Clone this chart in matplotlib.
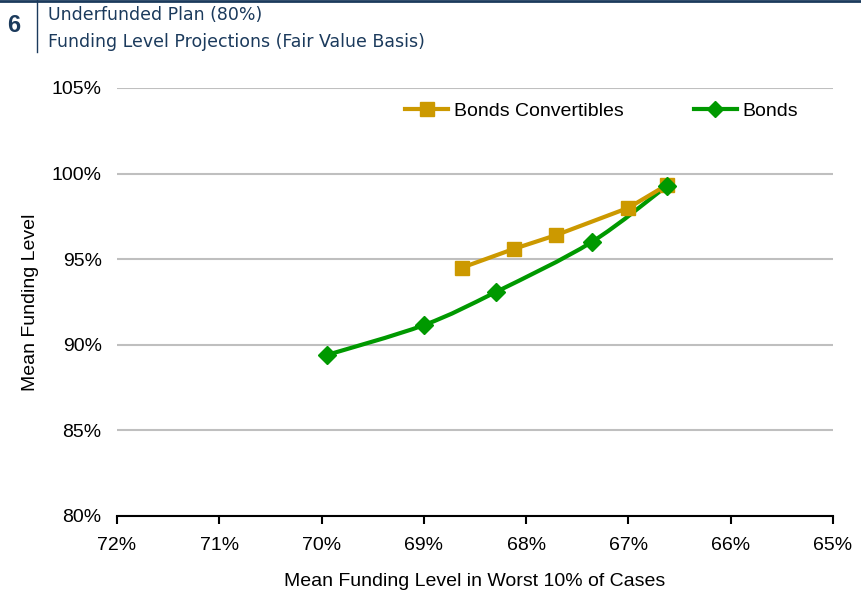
import matplotlib.pyplot as plt
import numpy as np
from matplotlib.path import Path
from matplotlib.patches import PathPatch

# funding level in worst 10% of cases (x) vs. mean funding level (y), in %
conv_x = [68.63, 68.12, 67.71, 67.0, 66.62]
conv_y = [94.5, 95.6, 96.4, 98.0, 99.35]
bonds_x = [69.95, 69.0, 68.29, 67.36, 66.62]
bonds_y = [89.4, 91.15, 93.1, 96.0, 99.3]

x_ticks = [72, 71, 70, 69, 68, 67, 66, 65]
y_ticks = [80, 85, 90, 95, 100, 105]

GOLD = "#CC9900"
GREEN = "#009900"
NAVY = "#1B3A5C"

plt.rcParams['font.family'] = ['Liberation Sans', 'DejaVu Sans']


def smooth_path(xs, ys, tension=1 / 6):
    # Catmull-Rom style bezier through the points, like a spreadsheet smoothed line
    pts = np.column_stack([xs, ys])
    verts = [pts[0]]
    codes = [Path.MOVETO]
    n = len(pts)
    for i in range(n - 1):
        p0 = pts[max(i - 1, 0)]
        p1 = pts[i]
        p2 = pts[i + 1]
        p3 = pts[min(i + 2, n - 1)]
        c1 = p1 + (p2 - p0) * tension
        c2 = p2 - (p3 - p1) * tension
        verts += [c1, c2, p2]
        codes += [Path.CURVE4] * 3
    return Path(verts, codes)


fig = plt.figure(figsize=(8.62, 5.92), dpi=100)
ax = fig.add_axes([0.1357, 0.1284, 0.8307, 0.723])

ax.set_xlim(72, 65)
ax.set_ylim(80, 105)
ax.set_xticks(x_ticks)
ax.set_xticklabels([f"{t}%" for t in x_ticks])
ax.set_yticks(y_ticks)
ax.set_yticklabels([f"{t}%" for t in y_ticks])
ax.tick_params(axis='x', direction='out', length=6, width=1.5, labelsize=14, pad=9)
ax.tick_params(axis='y', length=0, labelsize=14, pad=11)
for side in ['top', 'right', 'left']:
    ax.spines[side].set_visible(False)
ax.spines['bottom'].set_linewidth(1.5)
ax.yaxis.grid(True, color="#BFBFBF", linewidth=1.5)
ax.set_axisbelow(True)

ax.plot(conv_x, conv_y, color=GOLD, lw=3, marker='s', ms=10, label="Bonds Convertibles")
ax.add_patch(PathPatch(smooth_path(bonds_x, bonds_y), fill=False, edgecolor=GREEN, lw=3))
ax.plot(bonds_x, bonds_y, color=GREEN, lw=0, marker='D', ms=9)
# legend proxy for the smoothed series
ax.plot([], [], color=GREEN, lw=3, marker='D', ms=8, label="Bonds")

ax.legend(loc='center', bbox_to_anchor=(0.698, 0.812), bbox_transform=fig.transFigure,
          ncol=2, frameon=False, fontsize=14, handlelength=2.2, handletextpad=0.3,
          columnspacing=3.6)

ax.set_xlabel("Mean Funding Level in Worst 10% of Cases", fontsize=14, labelpad=14)
ax.set_ylabel("Mean Funding Level", fontsize=14, labelpad=9)

# section header
fig.add_artist(plt.Line2D([0, 1], [0.999, 0.999], color=NAVY, lw=2, transform=fig.transFigure))
fig.add_artist(plt.Line2D([37 / 862, 37 / 862], [1, 1 - 52 / 592], color=NAVY, lw=1,
                          transform=fig.transFigure))
fig.text(14 / 862, 1 - 26 / 592, "6", fontsize=17, fontweight='bold', color=NAVY,
         ha='center', va='center')
fig.text(48 / 862, 1 - 15 / 592, "Underfunded Plan (80%)", fontsize=12.5, color=NAVY,
         va='center', family=['DejaVu Sans'])
fig.text(48 / 862, 1 - 42 / 592, "Funding Level Projections (Fair Value Basis)", fontsize=12.5,
         color=NAVY, va='center', family=['DejaVu Sans'])

fig.savefig("out.png", dpi=100)
